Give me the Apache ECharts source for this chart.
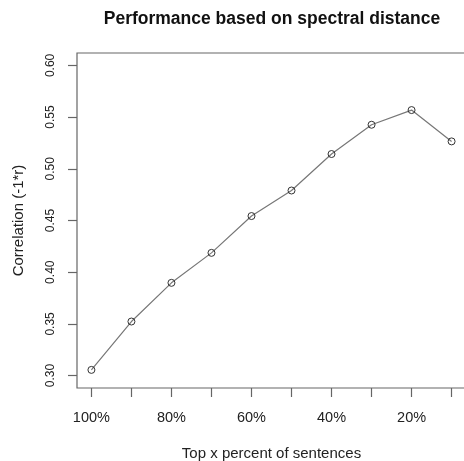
<!DOCTYPE html>
<html><head><meta charset="utf-8">
<script src="https://cdn.jsdelivr.net/npm/echarts@6/dist/echarts.min.js"></script>
<style>html,body{margin:0;padding:0;background:#fff}#c{width:464px;height:461px}</style>
</head><body><div id="c"></div>
<script>
const titleText = 'Performance based on spectral distance';
const xAxisTitle = 'Top x percent of sentences';
const yAxisTitle = 'Correlation (-1*r)';
const percents = [100, 90, 80, 70, 60, 50, 40, 30, 20, 10];
const correlation = [0.3055, 0.3523, 0.3897, 0.4187, 0.4543, 0.479, 0.5143, 0.5426, 0.5568, 0.5265];
const xTickValues = [100, 90, 80, 70, 60, 50, 40, 30, 20, 10];
const xLabelValues = [100, 80, 60, 40, 20];
const yTickValues = [0.30, 0.35, 0.40, 0.45, 0.50, 0.55, 0.60];

const font = "'Liberation Sans', Arial, Helvetica, sans-serif";
const chart = echarts.init(document.getElementById('c'), null, {renderer: 'canvas'});
chart.setOption({
  animation: false,
  backgroundColor: '#fff',
  title: {
    text: titleText, left: 272, top: 10, padding: 0, textAlign: 'center',
    textStyle: {fontFamily: font, fontSize: 17.5, fontWeight: 'bold', color: '#111'}
  },
  grid: {
    left: 77, top: 53, width: 389, height: 335,
    outerBoundsMode: 'none', containLabel: false,
    show: true, borderColor: '#666', borderWidth: 1.2, backgroundColor: 'transparent'
  },
  xAxis: {
    type: 'value', min: 6.4, max: 103.6, inverse: true,
    name: xAxisTitle, nameLocation: 'middle', nameGap: 58,
    nameTextStyle: {fontFamily: font, fontSize: 15, color: '#222'},
    axisLine: {show: false},
    splitLine: {show: false},
    axisTick: {show: true, length: 9, customValues: xTickValues, lineStyle: {color: '#666', width: 1.2}},
    axisLabel: {customValues: xLabelValues, margin: 22, formatter: v => v + '%',
      fontFamily: font, fontSize: 14.5, color: '#222'}
  },
  yAxis: {
    type: 'value', min: 0.288, max: 0.612,
    name: yAxisTitle, nameLocation: 'middle', nameGap: 51, nameRotate: 90,
    nameTextStyle: {fontFamily: font, fontSize: 15, color: '#222'},
    axisLine: {show: false},
    splitLine: {show: false},
    axisTick: {show: true, length: 9, customValues: yTickValues, lineStyle: {color: '#666', width: 1.2}},
    axisLabel: {customValues: yTickValues, rotate: 90, margin: 20, formatter: v => v.toFixed(2),
      fontFamily: font, fontSize: 12, color: '#222'}
  },
  series: [{
    type: 'line',
    data: percents.map((p, i) => [p, correlation[i]]),
    lineStyle: {color: '#777', width: 1.2},
    symbol: 'circle', symbolSize: 7,
    itemStyle: {color: 'rgba(0,0,0,0)', borderColor: '#333', borderWidth: 1},
    emphasis: {disabled: true}
  }]
});
</script>
</body></html>
